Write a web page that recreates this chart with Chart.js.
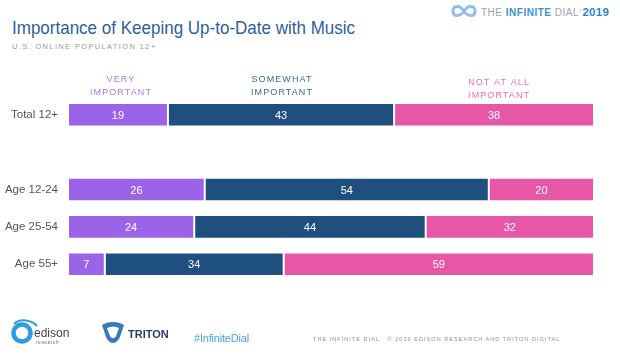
<!DOCTYPE html>
<html>
<head>
<meta charset="utf-8">
<script src="https://cdn.jsdelivr.net/npm/chart.js@4"></script>
<style>
  body { margin: 0; width: 620px; height: 354px; background: #fff; position: relative; overflow: hidden; font-family: "Liberation Sans", Arial, sans-serif; }
  #wrap { position: absolute; left: 0; top: 0; width: 620px; height: 354px; }
  .title { position: absolute; left: 12px; top: 17px; font-size: 19px; color: #2d5f9e; white-space: nowrap; transform: scaleX(0.895); transform-origin: left top; }
  .sub { position: absolute; left: 12px; top: 42px; font-size: 7.5px; letter-spacing: 1.35px; color: #9a9a9a; white-space: nowrap; }
  .brand { position: absolute; left: 450px; top: 4px; white-space: nowrap; font-size: 10px; color: #9aa3ad; letter-spacing: 0.5px; }
  .brand b { color: #3a93d6; font-weight: bold; }
  .brand .yr { color: #2f82c8; font-weight: bold; font-size: 11.5px; letter-spacing: 0.3px; }
  .foot { position: absolute; top: 336px; font-size: 5.5px; letter-spacing: 1.05px; color: #8f8f8f; white-space: nowrap; }
  .hash { position: absolute; left: 194px; top: 332px; font-size: 11px; color: #4aa3df; letter-spacing: -0.2px; }
</style>
</head>
<body>
<div class="title">Importance of Keeping Up-to-Date with Music</div>
<div class="sub">U.S. ONLINE POPULATION 12+</div>
<div class="brand">
  <svg width="28" height="14" viewBox="0 0 28 14" style="vertical-align:-2px;margin-right:3px">
    <path d="M14 7 C10 1, 3 1, 3 7 C3 13, 10 13, 14 7 C18 1, 25 1, 25 7 C25 13, 18 13, 14 7" fill="none" stroke="#8fc0e6" stroke-width="3"/>
  </svg>THE <b>INFINITE</b> DIAL<sup style="font-size:4px">®</sup><span class="yr">2019</span>
</div>
<div id="wrap"><canvas id="chart" width="620" height="354"></canvas></div>

<svg style="position:absolute;left:10px;top:318px" width="70" height="32" viewBox="0 0 70 32">
  <circle cx="12" cy="15" r="8.5" fill="none" stroke="#2f9be0" stroke-width="4.5"/>
  <path d="M4 6 C10 0, 22 2, 27 8" fill="none" stroke="#2f9be0" stroke-width="2"/>
  <text x="24" y="19" font-family="Liberation Sans, Arial" font-size="12" fill="#444">edison</text>
  <text x="26" y="26" font-family="Liberation Sans, Arial" font-size="4.5" fill="#666" letter-spacing="0.7">research</text>
</svg>
<svg style="position:absolute;left:100px;top:321px" width="70" height="26" viewBox="0 0 70 26">
  <path d="M2 4 C8 0, 18 0, 24 4 L20 16 C16 24, 10 24, 6 16 Z" fill="#3b78c2"/>
  <path d="M7 7 C11 5, 15 5, 19 7 L16 15 C14 18, 12 18, 10 15 Z" fill="#fff"/>
  <text x="28" y="17" font-family="Liberation Sans, Arial" font-size="11" font-weight="bold" fill="#2c3a6e">TRITON</text>
</svg>
<div class="hash">#InfiniteDial</div>
<div class="foot" style="left:313px">THE INFINITE DIAL &nbsp; © 2019 EDISON RESEARCH AND TRITON DIGITAL</div>

<script>
// rows (empty row keeps the gap between total and age groups)
const rowLabels = ["Total 12+", "", "Age 12-24", "Age 25-54", "Age 55+"];
const veryImportant = [19, null, 26, 24, 7];
const somewhatImportant = [43, null, 54, 44, 34];
const notImportant = [38, null, 20, 32, 59];
const seriesNames = [["VERY", "IMPORTANT"], ["SOMEWHAT", "IMPORTANT"], ["NOT AT ALL", "IMPORTANT"]];
const colors = ["#9b63e8", "#1f4f7f", "#e857a6"];
const headerColors = ["#a978ee", "#3d6a93", "#ee6cb4"];

// numbers inside the bars
const valueLabels = {
  id: "valueLabels",
  afterDatasetsDraw(chart) {
    const ctx = chart.ctx;
    ctx.save();
    ctx.font = "11px 'Liberation Sans', Arial, sans-serif";
    ctx.fillStyle = "#ffffff";
    ctx.textAlign = "center";
    ctx.textBaseline = "middle";
    chart.data.datasets.forEach((ds, i) => {
      chart.getDatasetMeta(i).data.forEach((bar, j) => {
        if (ds.data[j] == null) return;
        const c = bar.getCenterPoint();
        ctx.fillText(ds.data[j], c.x, c.y + 1);
      });
    });
    ctx.restore();
  },
};

// column headers above the total bar
const headerLabels = {
  id: "headerLabels",
  afterDraw(chart) {
    const ctx = chart.ctx;
    const offsets = [3, 1, 5];
    const tops = [80, 80, 83];
    ctx.save();
    ctx.font = "9px 'Liberation Sans', Arial, sans-serif";
    ctx.textAlign = "center";
    ctx.textBaseline = "middle";
    if ("letterSpacing" in ctx) ctx.letterSpacing = "1.1px";
    chart.data.datasets.forEach((ds, i) => {
      const bar = chart.getDatasetMeta(i).data[0];
      const x = bar.getCenterPoint().x + offsets[i];
      ctx.fillStyle = headerColors[i];
      seriesNames[i].forEach((line, k) => ctx.fillText(line, x, tops[i] + k * 13));
    });
    ctx.restore();
  },
};

function makeSet(name, data, color) {
  return {
    label: name,
    data: data,
    backgroundColor: color,
    borderColor: "rgba(255,255,255,0.35)",
    borderWidth: 1,
    borderSkipped: false,
    barPercentage: 0.63,
    categoryPercentage: 1,
  };
}

new Chart(document.getElementById("chart"), {
  type: "bar",
  data: {
    labels: rowLabels,
    datasets: [
      makeSet("Very important", veryImportant, colors[0]),
      makeSet("Somewhat important", somewhatImportant, colors[1]),
      makeSet("Not at all important", notImportant, colors[2]),
    ],
  },
  options: {
    indexAxis: "y",
    responsive: false,
    animation: false,
    layout: { padding: { top: 96, bottom: 71, right: 26, left: 0 } },
    plugins: { legend: { display: false }, tooltip: { enabled: false } },
    scales: {
      x: { stacked: true, min: 0, max: 100, display: false },
      y: {
        stacked: true,
        grid: { display: false, drawTicks: false },
        border: { display: false },
        ticks: { color: "#555", font: { size: 11.5, family: "'Liberation Sans', Arial, sans-serif" }, padding: 10 },
        afterFit: (s) => { s.width = 68; },
      },
    },
  },
  plugins: [valueLabels, headerLabels],
});
</script>
</body>
</html>
